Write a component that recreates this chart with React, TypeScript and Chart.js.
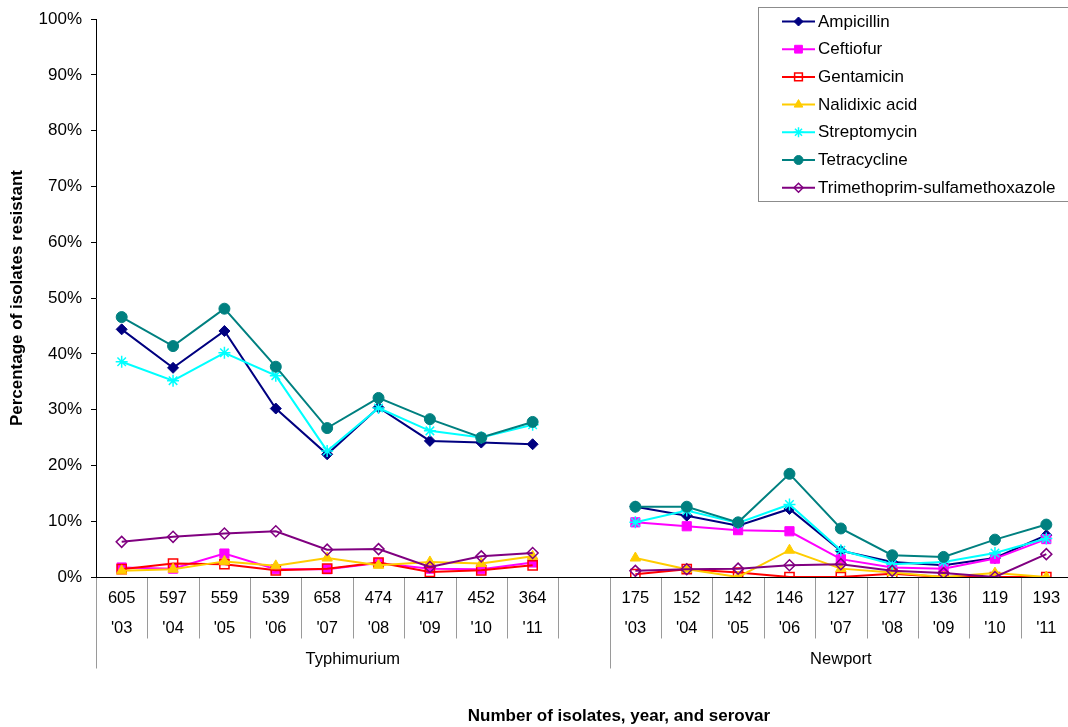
import React, { useEffect, useRef } from "react";
import { Chart, registerables } from "chart.js";
import { drawPoint } from "chart.js/helpers";

Chart.register(...registerables);

// Category table: isolate counts, years, serovar groups (index 9 is the spacer slot)
const isolateCounts = ["605", "597", "559", "539", "658", "474", "417", "452", "364", "", "175", "152", "142", "146", "127", "177", "136", "119", "193"];
const years = ["'03", "'04", "'05", "'06", "'07", "'08", "'09", "'10", "'11", "", "'03", "'04", "'05", "'06", "'07", "'08", "'09", "'10", "'11"];
const serovars = ["Typhimurium", "Newport"];
const serovarSpans = [[0, 10], [10, 19]];
const yTicks = [0, 10, 20, 30, 40, 50, 60, 70, 80, 90, 100];

// Percentage of isolates resistant
const ampicillin = [44.4, 37.5, 44.1, 30.2, 22.0, 30.4, 24.4, 24.1, 23.8, null, 12.6, 11.0, 9.2, 12.2, 4.7, 2.7, 2.1, 3.4, 7.5];
const ceftiofur = [1.7, 1.5, 4.2, 1.4, 1.4, 2.5, 1.5, 1.4, 2.6, null, 9.8, 9.1, 8.4, 8.2, 3.2, 1.7, 1.5, 3.3, 6.8];
const gentamicin = [1.4, 2.4, 2.3, 1.2, 1.5, 2.6, 0.9, 1.2, 2.1, null, 0.5, 1.4, 0.8, 0, 0, 0.6, 0, 0, 0];
const nalidixicAcid = [1.1, 1.4, 2.8, 2.0, 3.4, 2.1, 2.7, 2.4, 3.7, null, 3.4, 1.4, 0, 4.8, 1.5, 0.8, 0, 0.7, 0];
const streptomycin = [38.6, 35.2, 40.2, 36.1, 22.6, 30.3, 26.2, 25.0, 27.3, null, 9.8, 11.9, 9.7, 13.0, 4.8, 2.3, 2.7, 4.3, 6.9];
const tetracycline = [46.6, 41.4, 48.1, 37.7, 26.7, 32.1, 28.3, 25.0, 27.8, null, 12.6, 12.6, 9.8, 18.5, 8.7, 3.9, 3.6, 6.7, 9.4];
const tmpSmx = [6.3, 7.2, 7.8, 8.2, 4.9, 5.0, 1.8, 3.7, 4.3, null, 1.1, 1.4, 1.5, 2.1, 2.3, 1.1, 0.7, 0, 4.1];

const FONT = "'Liberation Sans', Arial, sans-serif";
const FS = 16.5;
const FS_LARGE = 17;

type SeriesDef = {
  label: string;
  data: (number | null)[];
  color: string;
  fill: string;
  style: string;
  radius: number;
  legendRadius: number;
  bw: number;
};

const series: SeriesDef[] = [
  { label: "Ampicillin", data: ampicillin, color: "#000080", fill: "#000080", style: "rectRot", radius: 5.5, legendRadius: 4.5, bw: 1 },
  { label: "Ceftiofur", data: ceftiofur, color: "#FF00FF", fill: "#FF00FF", style: "rect", radius: 6.5, legendRadius: 5.5, bw: 1 },
  { label: "Gentamicin", data: gentamicin, color: "#FF0000", fill: "rgba(0,0,0,0)", style: "rect", radius: 6.5, legendRadius: 5.5, bw: 1.5 },
  { label: "Nalidixic acid", data: nalidixicAcid, color: "#FFCC00", fill: "#FFCC00", style: "triangle", radius: 6, legendRadius: 5, bw: 1 },
  { label: "Streptomycin", data: streptomycin, color: "#00FFFF", fill: "#00FFFF", style: "star", radius: 6, legendRadius: 5, bw: 1.5 },
  { label: "Tetracycline", data: tetracycline, color: "#008080", fill: "#008080", style: "circle", radius: 5.5, legendRadius: 4.5, bw: 1 },
  { label: "Trimethoprim-sulfamethoxazole", data: tmpSmx, color: "#800080", fill: "rgba(0,0,0,0)", style: "rectRot", radius: 5.5, legendRadius: 4.5, bw: 1.5 },
];

// Draws the category table under the plot, axis titles and the boxed legend
const decorations = {
  id: "decorations",
  afterDraw(chart: any) {
    const ctx = chart.ctx as CanvasRenderingContext2D;
    const area = chart.chartArea;
    const xs = chart.scales.x;
    const n = isolateCounts.length;
    const w = (area.right - area.left) / n;
    const base = Math.round(area.bottom) + 0.5;
    ctx.save();

    // category dividers
    ctx.strokeStyle = "#9a9a9a";
    ctx.lineWidth = 1;
    for (let i = 0; i <= n; i++) {
      const x = Math.round(area.left + i * w) + 0.5;
      const tall = i === 0 || i === 10 || i === n;
      ctx.beginPath();
      ctx.moveTo(x, base);
      ctx.lineTo(x, tall ? base + 91 : base + 61);
      ctx.stroke();
    }

    // x axis line
    ctx.strokeStyle = "#000";
    ctx.beginPath();
    ctx.moveTo(area.left, base);
    ctx.lineTo(chart.width, base);
    ctx.stroke();

    // category labels
    ctx.fillStyle = "#000";
    ctx.font = `${FS}px ${FONT}`;
    ctx.textAlign = "center";
    ctx.textBaseline = "middle";
    for (let i = 0; i < n; i++) {
      const cx = xs.getPixelForValue(i);
      if (isolateCounts[i]) ctx.fillText(isolateCounts[i], cx, base + 20.5);
      if (years[i]) ctx.fillText(years[i], cx, base + 51);
    }
    serovars.forEach((name, g) => {
      const [a, b] = serovarSpans[g];
      const cx = area.left + ((a + b) / 2) * w;
      ctx.fillText(name, cx, base + 82);
    });

    // axis titles
    ctx.font = `bold ${FS_LARGE}px ${FONT}`;
    ctx.fillText("Number of isolates, year, and serovar", 619, 716);
    ctx.save();
    ctx.translate(17, (area.top + area.bottom) / 2);
    ctx.rotate(-Math.PI / 2);
    ctx.fillText("Percentage of isolates resistant", 0, 0);
    ctx.restore();

    // legend box
    const lx = 758.5, ly = 7.5, lb = 201.5;
    ctx.fillStyle = "#fff";
    ctx.fillRect(lx, ly, chart.width, lb - ly);
    ctx.strokeStyle = "#8c8c8c";
    ctx.strokeRect(lx, ly, chart.width, lb - ly);
    ctx.font = `${FS_LARGE}px ${FONT}`;
    ctx.textAlign = "left";
    series.forEach((s, i) => {
      const y = 21.5 + i * 27.7;
      ctx.strokeStyle = s.color;
      ctx.lineWidth = 2;
      ctx.beginPath();
      ctx.moveTo(782, y);
      ctx.lineTo(815, y);
      ctx.stroke();
      ctx.fillStyle = s.fill;
      ctx.strokeStyle = s.color;
      ctx.lineWidth = s.bw;
      drawPoint(ctx, { pointStyle: s.style, radius: s.legendRadius, rotation: 0, borderWidth: s.bw } as any, 798.5, y);
      ctx.fillStyle = "#000";
      ctx.fillText(s.label, 818, y + 0.5);
    });
    ctx.restore();
  },
};

export default function App() {
  const ref = useRef<HTMLCanvasElement | null>(null);

  useEffect(() => {
    if (!ref.current) return;
    const chart = new Chart(ref.current, {
      type: "line",
      data: {
        labels: isolateCounts.map((c, i) => (c ? `${c} ${years[i]}` : "")),
        datasets: series.map((s, i) => ({
          label: s.label,
          data: s.data,
          borderColor: s.color,
          backgroundColor: s.fill,
          borderWidth: 2,
          pointStyle: s.style as any,
          pointRadius: s.radius,
          pointBorderWidth: s.bw,
          pointBorderColor: s.color,
          pointBackgroundColor: s.fill,
          spanGaps: false,
          tension: 0,
          order: series.length - i,
        })),
      },
      options: {
        responsive: false,
        animation: false,
        devicePixelRatio: 1,
        layout: { padding: { top: 15, bottom: 150, left: 0, right: 5.4 } },
        plugins: {
          legend: { display: false },
          tooltip: { enabled: false },
        },
        scales: {
          x: { type: "category", display: false, offset: true },
          y: {
            min: 0,
            max: 100,
            afterFit: (scale: any) => {
              scale.width = 96;
            },
            afterBuildTicks: (scale: any) => {
              scale.ticks = yTicks.map((v) => ({ value: v }));
            },
            ticks: {
              callback: (v: any) => `${v}%`,
              color: "#000",
              font: { family: FONT, size: FS_LARGE },
              padding: 9,
            },
            grid: { drawOnChartArea: false, drawTicks: true, tickLength: 5, color: "#000" },
            border: { display: true, color: "#000", width: 1 },
          },
        },
      },
      plugins: [decorations],
    });
    return () => chart.destroy();
  }, []);

  return (
    <div style={{ position: "fixed", left: 0, top: 0, width: 1068, height: 727, overflow: "hidden", background: "#fff" }}>
      <canvas ref={ref} width={1080} height={727} style={{ width: 1080, height: 727, display: "block" }} />
    </div>
  );
}
